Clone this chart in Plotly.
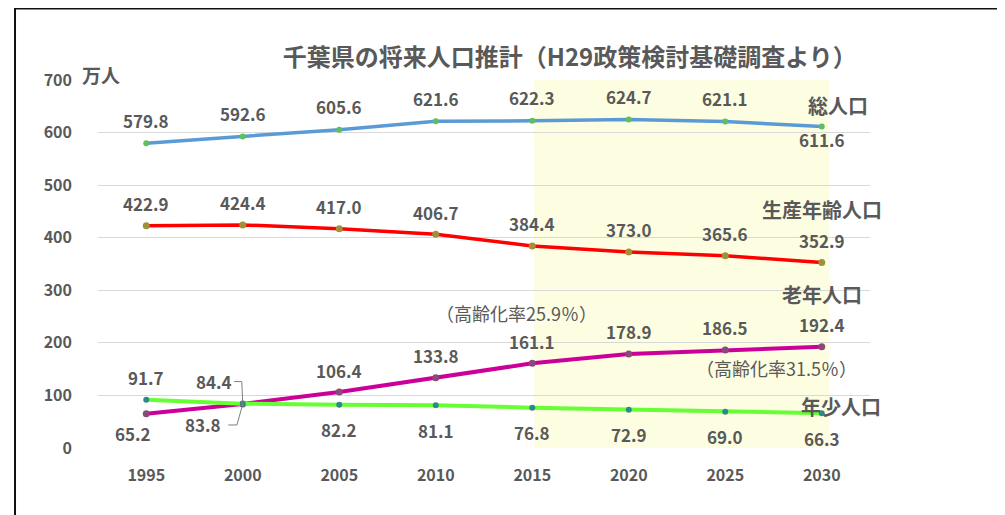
import plotly.graph_objects as go

years = [1995, 2000, 2005, 2010, 2015, 2020, 2025, 2030]
total = [579.8, 592.6, 605.6, 621.6, 622.3, 624.7, 621.1, 611.6]
working = [422.9, 424.4, 417.0, 406.7, 384.4, 373.0, 365.6, 352.9]
elderly = [65.2, 83.8, 106.4, 133.8, 161.1, 178.9, 186.5, 192.4]
young = [91.7, 84.4, 82.2, 81.1, 76.8, 72.9, 69.0, 66.3]
series_names = ["総人口", "生産年齢人口", "老年人口", "年少人口"]
y_ticks = [0, 100, 200, 300, 400, 500, 600, 700]

FONT = "Noto Sans CJK JP"
GRAY = "#595959"

fig = go.Figure()

# projection shading
fig.add_shape(type="rect", xref="x", yref="y", x0=2015.1, x1=2030.4, y0=0, y1=700,
              fillcolor="#FDFDE2", line_width=0, layer="below")

specs = [
    (total, "#5B9BD5", 3.5, "#5CC060", 6),
    (working, "#FF0000", 3.5, "#A0903A", 7),
    (elderly, "#CC0099", 4, "#8A4A78", 7),
    (young, "#66FF33", 4, "#2E8A8A", 6),
]
for (vals, lc, lw, mc, ms), name in zip(specs, series_names):
    fig.add_trace(go.Scatter(x=years, y=vals, mode="lines+markers", name=name,
                             line=dict(color=lc, width=lw),
                             marker=dict(color=mc, size=ms), showlegend=False))

def lab(x, y, text, xs=0, ys=22, size=17, bold=True, color=GRAY):
    fig.add_annotation(x=x, y=y, text=f"<b>{text}</b>" if bold else text,
                       showarrow=False, xshift=xs, yshift=ys,
                       font=dict(family=FONT, size=size, color=color))

for i, (x, v) in enumerate(zip(years, total)):
    lab(x, v, f"{v:.1f}", ys=(-13 if i == 7 else 23))
for x, v in zip(years, working):
    lab(x, v, f"{v:.1f}", ys=22)
for i, (x, v) in enumerate(zip(years, elderly)):
    if i == 0:
        lab(x, v, f"{v:.1f}", xs=-13, ys=-20)
    elif i == 1:
        lab(x, v, f"{v:.1f}", xs=-40, ys=-21)
    else:
        lab(x, v, f"{v:.1f}", ys=22)
for i, (x, v) in enumerate(zip(years, young)):
    if i == 0:
        lab(x, v, f"{v:.1f}", ys=22)
    elif i == 1:
        lab(x, v, f"{v:.1f}", xs=-29, ys=22)
    else:
        lab(x, v, f"{v:.1f}", ys=-25)

# leader lines for 2000 labels
fig.add_shape(type="path", xref="x", yref="y",
              path=f"M {years[1]-0.45},{young[1]+42} L {years[1]-0.05},{young[1]+42} L {years[1]},{young[1]}",
              line=dict(color="#808080", width=1))
fig.add_shape(type="path", xref="x", yref="y",
              path=f"M {years[1]-0.75},{elderly[1]-40} L {years[1]-0.3},{elderly[1]-40} L {years[1]},{elderly[1]}",
              line=dict(color="#808080", width=1))

# series name labels
lab(years[7], total[7], series_names[0], xs=16, ys=21, size=20)
lab(years[7], working[7], series_names[1], xs=0, ys=53, size=20)
lab(years[7], elderly[7], series_names[2], xs=0, ys=52, size=20)
lab(years[7], young[7], series_names[3], xs=19, ys=7, size=20)
lab(years[4], elderly[4], "（高齢化率25.9％）", xs=-16, ys=50, size=18, bold=False)
lab(years[7], elderly[7], "（高齢化率31.5％）", xs=-45, ys=-21, size=18, bold=False)

fig.add_annotation(xref="paper", yref="paper", x=0.0, y=1.0, xanchor="left", yanchor="bottom",
                   xshift=-18, yshift=-10, text="<b>万人</b>", showarrow=False,
                   font=dict(family=FONT, size=19, color=GRAY))

# frame
fig.add_shape(type="rect", xref="paper", yref="paper", x0=-0.1075, x1=1.25, y0=-0.3, y1=1.194,
              line=dict(color="#111111", width=2), fillcolor="rgba(0,0,0,0)")

fig.update_layout(
    width=1005, height=515,
    margin=dict(l=90, r=143, t=72, b=75),
    paper_bgcolor="white", plot_bgcolor="white",
    title=dict(text="<b>千葉県の将来人口推計（H29政策検討基礎調査より）</b>",
               x=0.559, xanchor="center", y=0.903, yanchor="middle",
               font=dict(family=FONT, size=24, color=GRAY)),
    font=dict(family=FONT, color=GRAY),
)
fig.update_xaxes(range=[1992.5, 2032.5], tickvals=years, ticktext=[str(y) for y in years],
                 showgrid=False, zeroline=False, showline=False,
                 tickfont=dict(family=FONT, size=16, color=GRAY, weight="bold"), ticklabelstandoff=16)
fig.update_yaxes(range=[0, 700], tickvals=y_ticks, showgrid=True, gridcolor="#D9D9D9",
                 gridwidth=1, zeroline=False, showline=False,
                 tickfont=dict(family=FONT, size=16, color=GRAY, weight="bold"), ticklabelstandoff=25)

fig.write_html("out.html")
